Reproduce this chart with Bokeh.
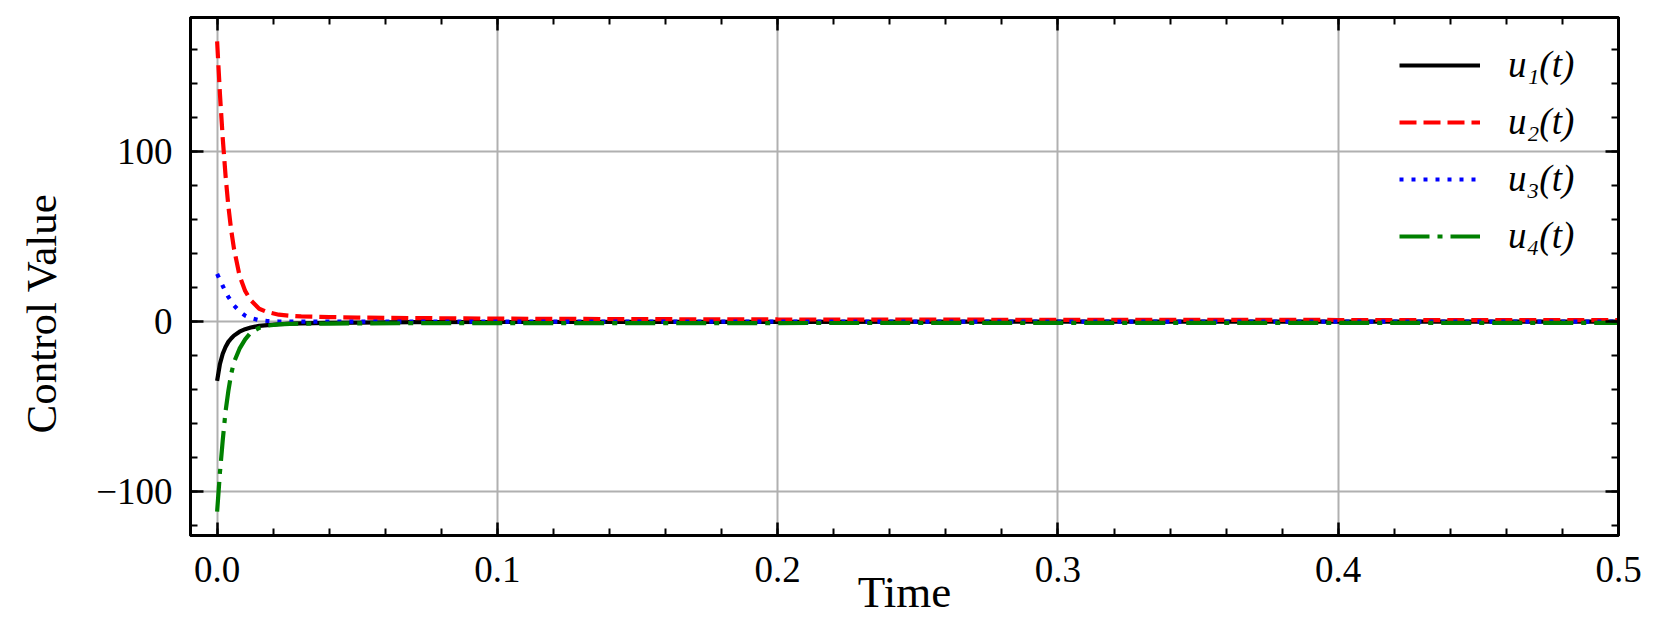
from bokeh.plotting import figure
from bokeh.models import (Range1d, FixedTicker, PrintfTickFormatter, LinearAxis,
                          Legend, LegendItem, Title, CustomLabelingPolicy)
from bokeh.embed import file_html
from bokeh.resources import INLINE

# ---- data ----
t = [0.0, 0.001, 0.002, 0.003, 0.004, 0.005, 0.006, 0.008, 0.010, 0.012,
     0.015, 0.018, 0.022, 0.026, 0.03, 0.04, 0.05, 0.07, 0.1, 0.15,
     0.2, 0.3, 0.4, 0.5]
u1 = [-35, -25, -19, -15, -12, -10, -8.3, -6, -4.5, -3.5,
      -2.6, -2.1, -1.6, -1.3, -1.1, -0.8, -0.6, -0.4, -0.3, -0.2,
      -0.2, -0.1, -0.1, -0.1]
u2 = [165, 134, 108, 86, 68, 54, 43, 27, 18, 12.5,
      7.5, 5.5, 4.0, 3.4, 3.0, 2.6, 2.3, 2.0, 1.7, 1.4,
      1.2, 1.0, 0.9, 0.8]
u3 = [28, 24.5, 21, 17.5, 14.5, 12, 9.5, 6, 3.5, 2,
      0.8, 0.3, 0.0, -0.1, -0.1, -0.1, -0.1, -0.1, -0.1, -0.1,
      -0.1, -0.1, -0.1, -0.1]
u4 = [-112, -89, -70, -53, -41, -31, -24, -16, -10.5, -6.5,
      -3.8, -2.4, -1.7, -1.4, -1.3, -1.2, -1.1, -1.0, -1.0, -0.9,
      -0.9, -0.8, -0.8, -0.8]
labels = ["u\u2081(t)", "u\u2082(t)", "u\u2083(t)", "u\u2084(t)"]

x_major = [0.0, 0.1, 0.2, 0.3, 0.4, 0.5]
y_major = [-100, 0, 100]

FONT = "Liberation Serif"

p = figure(frame_width=1428, frame_height=518,
           min_border_left=190, min_border_top=17, min_border_right=26,
           min_border_bottom=85,
           x_range=Range1d(-0.0095, 0.5), y_range=Range1d(-126, 179),
           output_backend="svg", toolbar_location=None,
           background_fill_color="white", border_fill_color="white")

p.outline_line_color = "black"
p.outline_line_width = 3

xt = FixedTicker(ticks=x_major, minor_ticks=[round(0.02 * k, 2) for k in range(0, 26)])
yt = FixedTicker(ticks=y_major, minor_ticks=[20 * k for k in range(-6, 9)])

hide_all = CustomLabelingPolicy(code="""
for (const i of indices)
  indices.unset(i)
""")

def style_axis(ax, ticker, show_labels):
    ax.ticker = ticker
    ax.axis_line_color = "black"
    ax.axis_line_width = 3
    ax.major_tick_in = 13
    ax.major_tick_out = 0
    ax.minor_tick_in = 7
    ax.minor_tick_out = 0
    ax.major_tick_line_width = 2.5
    ax.minor_tick_line_width = 2
    ax.major_tick_line_color = "black"
    ax.minor_tick_line_color = "black"
    if show_labels:
        ax.major_label_text_font = FONT
        ax.major_label_text_font_size = "37px"
        ax.major_label_text_color = "black"
        ax.axis_label_text_font = FONT
        ax.axis_label_text_font_size = "45px"
        ax.axis_label_text_font_style = "normal"
        ax.axis_label_text_color = "black"
    else:
        ax.major_label_policy = hide_all
        ax.major_label_text_font_size = "1px"
        ax.major_label_standoff = 0

xa = p.xaxis[0]
ya = p.yaxis[0]
style_axis(xa, xt, True)
style_axis(ya, yt, True)
xa.formatter = PrintfTickFormatter(format="%.1f")
ya.major_label_overrides = {-100: "\u2212100", 0: "0", 100: "100"}
xa.axis_label = "Time"
xa.major_label_standoff = 21
xa.axis_label_standoff = -18
ya.major_label_standoff = 18

top = LinearAxis()
right = LinearAxis()
style_axis(top, xt, False)
style_axis(right, yt, False)
p.add_layout(top, "above")
p.add_layout(right, "right")

# y-axis title, starting a little above the frame bottom like the reference
ytitle = Title(text="Control Value", align="left", offset=102,
               vertical_align="bottom",
               text_font=FONT, text_font_size="43px",
               text_font_style="normal", text_color="black")
props = Title.properties()
padded = False
if "padding" in props:
    try:
        ytitle.padding = dict(top=0, right=0, bottom=20, left=0)
        padded = True
    except Exception:
        padded = False
if "standoff" in props:
    ytitle.standoff = 18 if padded else 38
p.add_layout(ytitle, "left")

p.xgrid.ticker = xt
p.ygrid.ticker = yt
for g in (p.xgrid[0], p.ygrid[0]):
    g.grid_line_color = "#b0b0b0"
    g.grid_line_width = 2

LW = 4.2
r1 = p.line(t, u1, line_color="black", line_width=LW)
r2 = p.line(t, u2, line_color="#ff0000", line_width=LW, line_dash="17 7")
r3 = p.line(t, u3, line_color="#0000ff", line_width=LW, line_dash="4 8")
r4 = p.line(t, u4, line_color="#008000", line_width=LW, line_dash="30 8 5 8")

legend = Legend(items=[LegendItem(label=labels[0], renderers=[r1]),
                       LegendItem(label=labels[1], renderers=[r2]),
                       LegendItem(label=labels[2], renderers=[r3]),
                       LegendItem(label=labels[3], renderers=[r4])],
                location=(1209, 278))
legend.border_line_color = None
legend.background_fill_alpha = 0
legend.padding = 0
legend.margin = 0
legend.spacing = 14
legend.glyph_width = 81
legend.glyph_height = 30
legend.label_height = 30
legend.label_standoff = 28
legend.label_text_font = FONT
legend.label_text_font_size = "37px"
legend.label_text_font_style = "italic"
legend.label_text_color = "black"
p.add_layout(legend, "center")

open("out.html", "w").write(file_html(p, INLINE))
